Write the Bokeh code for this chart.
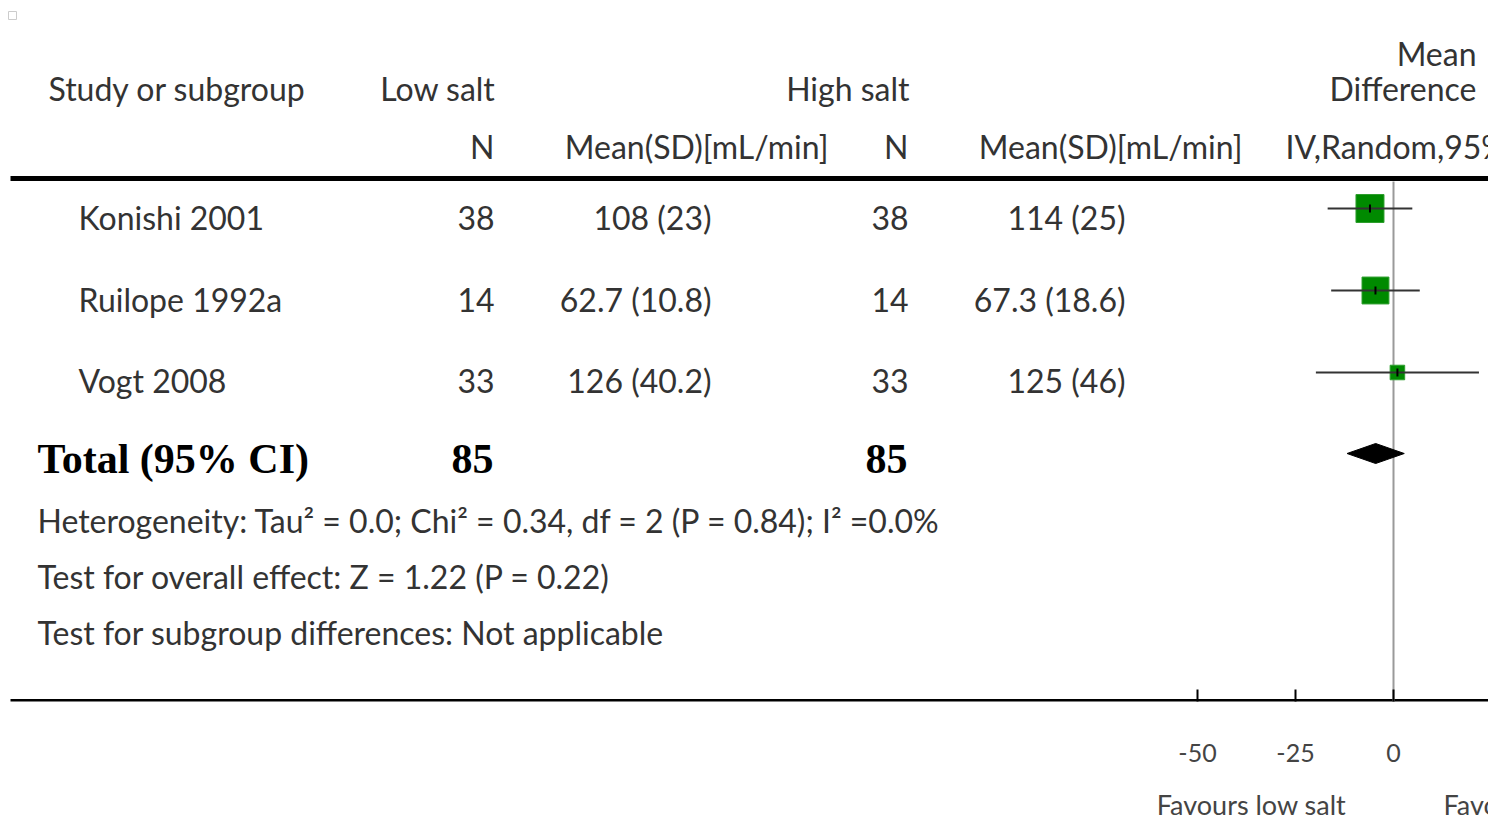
from bokeh.plotting import figure
from bokeh.layouts import column
from bokeh.models import ColumnDataSource, Range1d, LinearAxis, FixedTicker
from bokeh.core.properties import value
from bokeh.embed import file_html
from bokeh.resources import INLINE
import math

# ---- data -------------------------------------------------------------
studies = ["Konishi 2001", "Ruilope 1992a", "Vogt 2008"]
low_n = [38, 14, 33]
low_mean = [108, 62.7, 126]
low_sd = [23, 10.8, 40.2]
high_n = [38, 14, 33]
high_mean = [114, 67.3, 125]
high_sd = [25, 18.6, 46]
mean_diff = [-6.0, -4.6, 1.0]
ci_low = [-16.8, -15.9, -19.8]
ci_high = [4.8, 6.7, 21.8]
weights = [45.6, 42.1, 12.3]
total_low_n = 85
total_high_n = 85
pooled_md = -4.55
pooled_low = -11.85
pooled_high = 2.75
axis_ticks = [-50, -25, 0, 25, 50]
tick_labels = {-50: "-50", -25: "-25", 0: "0", 25: "25", 50: "50"}
favours = ["Favours low salt", "Favours high salt"]

heterogeneity = "Heterogeneity: Tau\u00b2 = 0.0; Chi\u00b2 = 0.34, df = 2 (P = 0.84); I\u00b2 =0.0%"
overall = "Test for overall effect: Z = 1.22 (P = 0.22)"
subgroup = "Test for subgroup differences: Not applicable"

# ---- layout -----------------------------------------------------------
W, H = 1488, 820
CAPTION_H = 35                # strip holding the "Favours" captions
TOP_H = H - CAPTION_H
FRAME_BOTTOM = 701
ZERO_PX = 1393          # screen x of a zero mean difference
PX_PER_UNIT = 3.92      # forest scale
row_y = [217, 299, 380]       # text rows
mark_y = [208, 290, 372]      # forest marks of those rows
total_y = 458
diamond_y = 453
caption_baseline = 804
BODY = "Lato"
TXT = "#333333"
FS = "32px"

md_range = Range1d((0 - ZERO_PX) / PX_PER_UNIT, (W - ZERO_PX) / PX_PER_UNIT)

p = figure(width=W, height=TOP_H, x_range=Range1d(0, W), y_range=Range1d(FRAME_BOTTOM, 0),
           x_axis_location=None, y_axis_location=None, toolbar_location=None,
           output_backend="svg", min_border_left=0, min_border_right=0,
           min_border_top=0, min_border_bottom=TOP_H - FRAME_BOTTOM,
           outline_line_color=None, background_fill_color="white")
p.xgrid.visible = False
p.ygrid.visible = False
p.extra_x_ranges = {"md": md_range}


def text(fig, xs, ys, labels, align="left", font=BODY, size=FS, color=TXT, style="normal",
         baseline="middle", **kw):
    src = ColumnDataSource(dict(x=xs, y=ys, t=labels))
    fig.text("x", "y", text="t", source=src, text_align=align, text_baseline=baseline,
             text_font=value(font), text_font_size=size, text_color=color,
             text_font_style=style, **kw)


# small marker in the corner
p.rect(x=[12], y=[15], width=8, height=8, fill_color=None, line_color="#cccccc", line_width=1)

# headers
text(p, [48], [88], ["Study or subgroup"])
text(p, [495, 909], [88, 88], ["Low salt", "High salt"], align="right")
text(p, [1476, 1476], [53, 88], ["Mean", "Difference"], align="right")
text(p, [494, 828, 908, 1242], [146] * 4,
     ["N", "Mean(SD)[mL/min]", "N", "Mean(SD)[mL/min]"], align="right")
text(p, [1285], [146], ["IV,Random,95% CI"])

# rules
p.segment(x0=[10, 10], y0=[178, FRAME_BOTTOM], x1=[W, W], y1=[178, FRAME_BOTTOM],
          line_color="black", line_width=5)

# study rows
fmt = lambda m, s: f"{m:g} ({s:g})"
text(p, [78] * 3, row_y, studies)
text(p, [494] * 3, row_y, [str(n) for n in low_n], align="right")
text(p, [711] * 3, row_y, [fmt(m, s) for m, s in zip(low_mean, low_sd)], align="right")
text(p, [908] * 3, row_y, [str(n) for n in high_n], align="right")
text(p, [1125] * 3, row_y, [fmt(m, s) for m, s in zip(high_mean, high_sd)], align="right")

# total row and footnotes
text(p, [37], [total_y], ["Total (95% CI)"], font="Liberation Serif", size="42px",
     color="black", style="bold")
text(p, [493, 907], [total_y] * 2, [str(total_low_n), str(total_high_n)], align="right",
     font="Liberation Serif", size="42px", color="black", style="bold")
text(p, [37, 37, 37], [520, 576, 632], [heterogeneity, overall, subgroup])

# forest plot
p.segment(x0=[0], y0=[181], x1=[0], y1=[FRAME_BOTTOM], x_range_name="md",
          line_color="#9a9a9a", line_width=2)

sizes = [28 * math.sqrt(w / max(weights)) for w in weights]
fsrc = ColumnDataSource(dict(md=mean_diff, lo=ci_low, hi=ci_high, y=mark_y, size=sizes,
                             y0=[y - 4 for y in mark_y], y1=[y + 4 for y in mark_y]))
p.scatter("md", "y", source=fsrc, size="size", marker="square", x_range_name="md",
          fill_color="#008a00", line_color="#2e9e2e", line_width=1)
p.segment("lo", "y", "hi", "y", source=fsrc, x_range_name="md",
          line_color="#333333", line_width=2)
p.segment("md", "y0", "md", "y1", source=fsrc, x_range_name="md",
          line_color="black", line_width=2)

p.patch(x=[pooled_low, pooled_md, pooled_high, pooled_md],
        y=[diamond_y, diamond_y - 10, diamond_y, diamond_y + 10],
        x_range_name="md", fill_color="black", line_color="black")

axis = LinearAxis(x_range_name="md", ticker=FixedTicker(ticks=axis_ticks),
                  major_label_overrides=tick_labels,
                  axis_line_color=None,
                  major_tick_in=12, major_tick_out=0, major_tick_line_width=2,
                  major_tick_line_color="black", minor_tick_line_color=None,
                  major_label_standoff=42, major_label_text_font="Lato",
                  major_label_text_font_size="25px", major_label_text_color="#444444")
p.add_layout(axis, "below")

# caption strip under the axis, sharing the mean-difference scale
cap = figure(width=W, height=CAPTION_H, x_range=md_range, y_range=Range1d(H, TOP_H),
             x_axis_location=None, y_axis_location=None, toolbar_location=None,
             output_backend="svg", min_border_left=0, min_border_right=0,
             min_border_top=0, min_border_bottom=0, outline_line_color=None)
cap.xgrid.visible = False
cap.ygrid.visible = False
cap_x = [(1251 - ZERO_PX) / PX_PER_UNIT, (1443 - ZERO_PX) / PX_PER_UNIT]
src = ColumnDataSource(dict(x=cap_x, y=[caption_baseline] * 2, t=favours,
                            a=["center", "left"]))
cap.text("x", "y", text="t", source=src, text_align="a", text_baseline="alphabetic",
         text_font=value("Lato"), text_font_size="27px", text_color="#444444")

open("out.html", "w").write(file_html(column(p, cap, spacing=0), INLINE))
